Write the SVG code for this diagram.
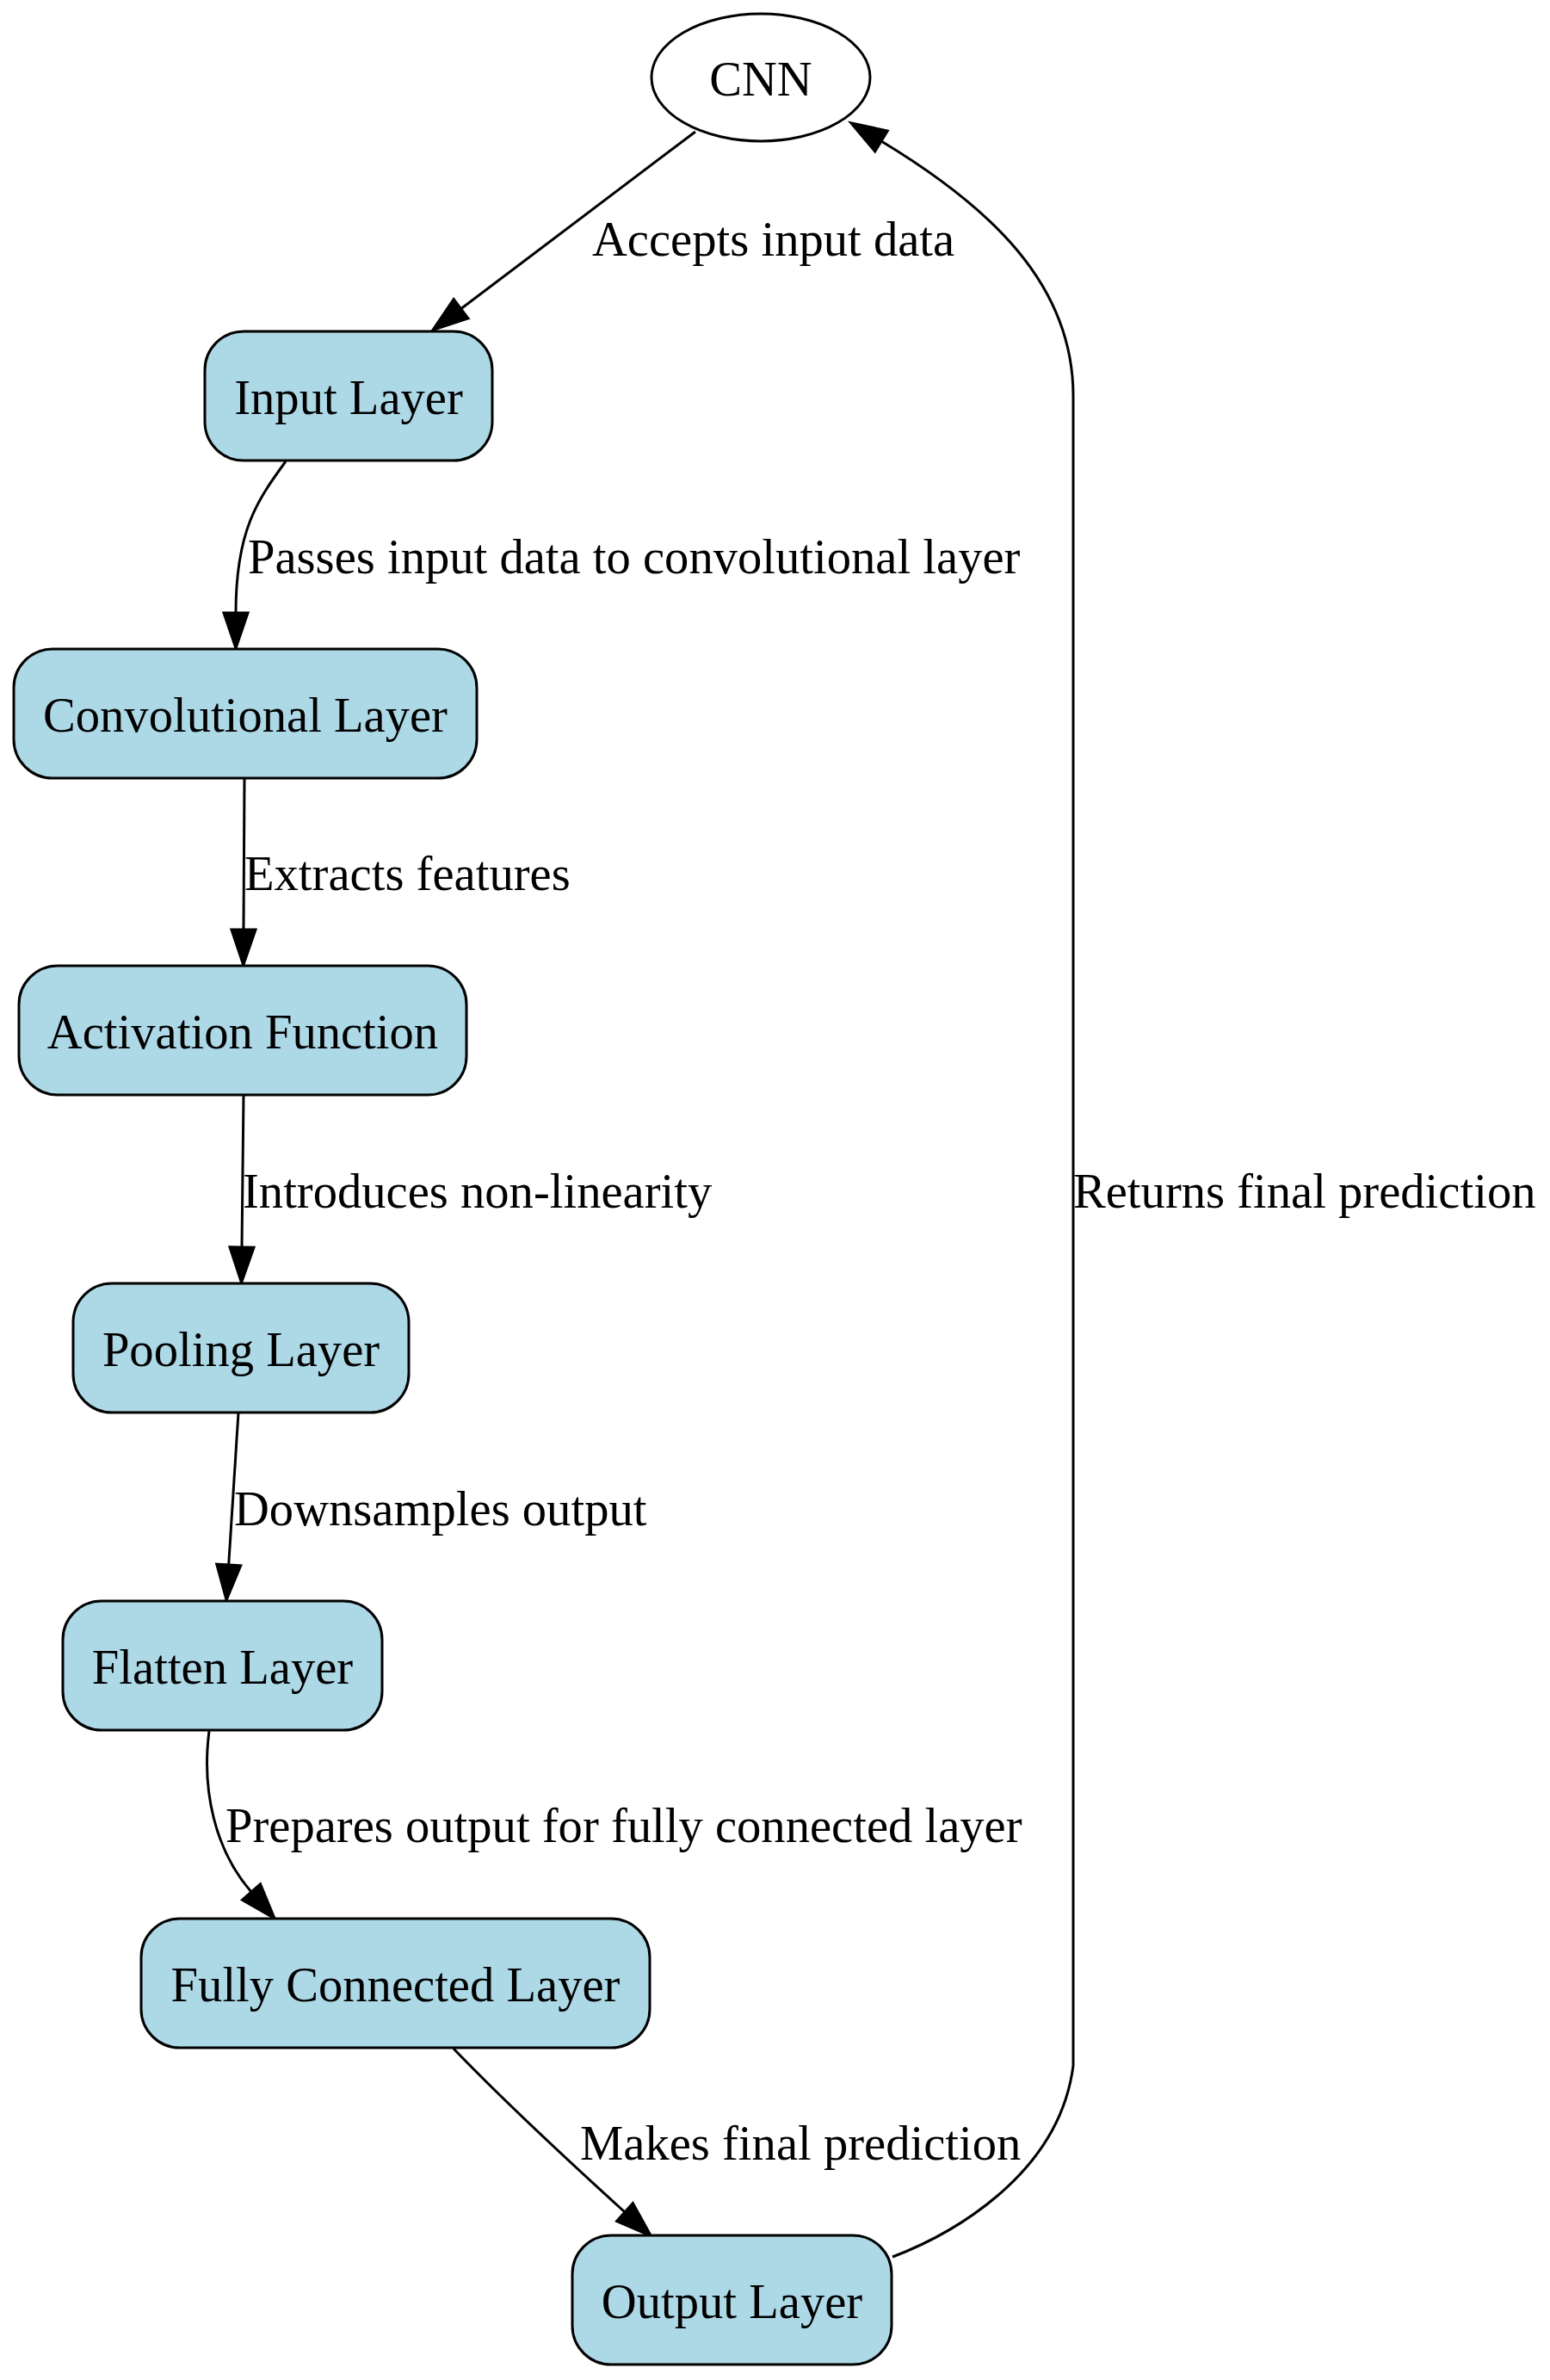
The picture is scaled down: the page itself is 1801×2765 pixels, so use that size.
<svg xmlns="http://www.w3.org/2000/svg" width="1801" height="2765" viewBox="0 0 1801 2765">
<style>
.node rect{fill:#add8e6;stroke:#000;stroke-width:3}
.node ellipse{fill:#fff;stroke:#000;stroke-width:3}
text{font-family:"Liberation Serif","Times New Roman",serif;font-size:56.6px;fill:#000}
.node text{text-anchor:middle}
.edge{fill:none;stroke:#000;stroke-width:3;marker-end:url(#ah)}
</style>
<defs>
<marker id="ah" markerUnits="userSpaceOnUse" markerWidth="44" markerHeight="32" viewBox="0 0 44 32" refX="1" refY="15" orient="auto" overflow="visible">
<path d="M1,1 L42,15 L1,29 Z" fill="#000" stroke="#000" stroke-width="3"/>
</marker>
</defs>
<rect width="1801" height="2765" fill="#fff"/>
<g id="connectors">
<path class="edge" d="M808,153 L535.6,358.7"/>
<text x="688" y="297">Accepts input data</text>
<path class="edge" d="M332,536 C300,580 274,615 274,712"/>
<text x="288" y="666">Passes input data to convolutional layer</text>
<path class="edge" d="M284,904 L283,1080"/>
<text x="284" y="1034">Extracts features</text>
<path class="edge" d="M283,1272 L281,1449"/>
<text x="282" y="1403">Introduces non-linearity</text>
<path class="edge" d="M277,1641 L265.7,1818"/>
<text x="272" y="1772">Downsamples output</text>
<path class="edge" d="M243,2011 C234,2080 250,2150 292,2198"/>
<text x="262" y="2140">Prepares output for fully connected layer</text>
<path class="edge" d="M527,2380 C575,2430 660,2510 726,2570"/>
<text x="674" y="2509">Makes final prediction</text>
<path class="edge" d="M1037,2622 C1100,2598 1230,2530 1247,2400 L1247,460 C1247,330 1150,240 1024,164"/>
<text x="1247" y="1403">Returns final prediction</text>
</g>
<g id="cnn" class="node"><ellipse cx="884" cy="90" rx="127" ry="74"/><text x="884" y="111">CNN</text></g>
<g id="input_layer" class="node"><rect x="238" y="385" width="334" height="150" rx="45" ry="45"/><text x="405" y="481">Input Layer</text></g>
<g id="conv_layer" class="node"><rect x="16" y="754" width="538" height="150" rx="45" ry="45"/><text x="285" y="850">Convolutional Layer</text></g>
<g id="activation" class="node"><rect x="22" y="1122" width="520" height="150" rx="45" ry="45"/><text x="282" y="1218">Activation Function</text></g>
<g id="pooling_layer" class="node"><rect x="85" y="1491" width="390" height="150" rx="45" ry="45"/><text x="280" y="1587">Pooling Layer</text></g>
<g id="flatten_layer" class="node"><rect x="73" y="1860" width="371" height="150" rx="45" ry="45"/><text x="258.5" y="1956">Flatten Layer</text></g>
<g id="fc_layer" class="node"><rect x="164" y="2229" width="591" height="150" rx="45" ry="45"/><text x="459.5" y="2325">Fully Connected Layer</text></g>
<g id="output_layer" class="node"><rect x="665" y="2597" width="371" height="150" rx="45" ry="45"/><text x="850.5" y="2693">Output Layer</text></g>
</svg>
